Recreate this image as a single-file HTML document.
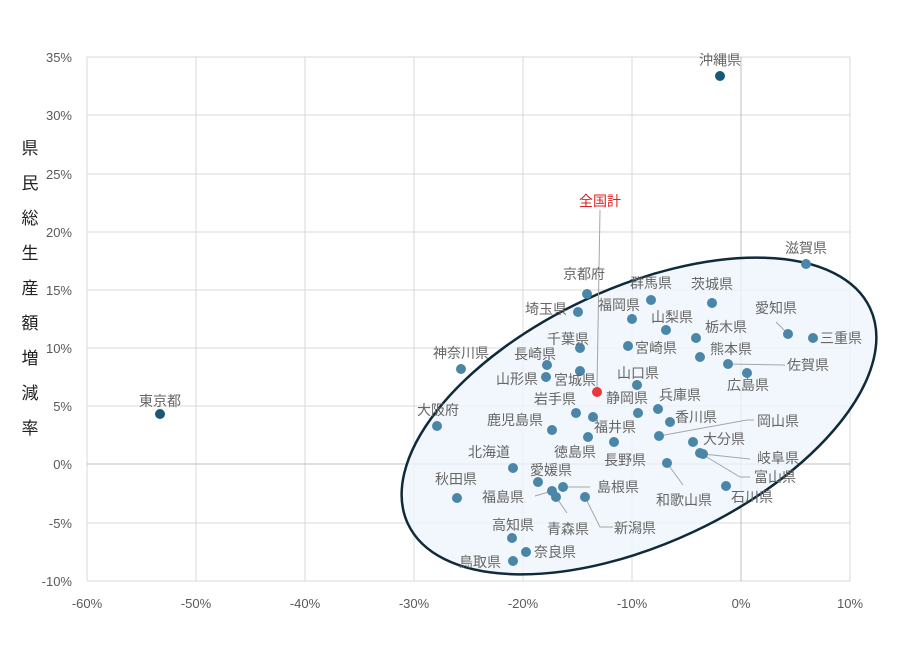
<!DOCTYPE html>
<html><head><meta charset="utf-8"><style>body{margin:0;background:#fff}</style></head><body>
<svg width="900" height="648" xmlns="http://www.w3.org/2000/svg" font-family="Liberation Sans, Noto Sans CJK JP, sans-serif">
<rect width="900" height="648" fill="#fff"/>
<g stroke="#d9d9d9" stroke-width="1">
<line x1="87" y1="57" x2="87" y2="581"/><line x1="196" y1="57" x2="196" y2="581"/><line x1="305" y1="57" x2="305" y2="581"/><line x1="414" y1="57" x2="414" y2="581"/><line x1="523" y1="57" x2="523" y2="581"/><line x1="632" y1="57" x2="632" y2="581"/><line x1="850" y1="57" x2="850" y2="581"/>
<line x1="87" y1="57" x2="850" y2="57"/><line x1="87" y1="115" x2="850" y2="115"/><line x1="87" y1="174" x2="850" y2="174"/><line x1="87" y1="232" x2="850" y2="232"/><line x1="87" y1="290" x2="850" y2="290"/><line x1="87" y1="348" x2="850" y2="348"/><line x1="87" y1="406" x2="850" y2="406"/><line x1="87" y1="523" x2="850" y2="523"/><line x1="87" y1="581" x2="850" y2="581"/>
</g>
<line x1="87" y1="464" x2="850" y2="464" stroke="#bfbfbf"/>
<line x1="741" y1="57" x2="741" y2="581" stroke="#bfbfbf"/>
<ellipse cx="639" cy="416" rx="255" ry="128" transform="rotate(-25 639 416)" fill="#eef5fb" fill-opacity="0.8" stroke="#0f2a3a" stroke-width="2.5"/>
<g font-size="13" fill="#595959" text-anchor="end">
<text x="72" y="62">35%</text><text x="72" y="120">30%</text><text x="72" y="179">25%</text><text x="72" y="237">20%</text><text x="72" y="295">15%</text><text x="72" y="353">10%</text><text x="72" y="411">5%</text><text x="72" y="469">0%</text><text x="72" y="528">-5%</text><text x="72" y="586">-10%</text>
</g>
<g font-size="13" fill="#595959" text-anchor="middle">
<text x="87" y="608">-60%</text><text x="196" y="608">-50%</text><text x="305" y="608">-40%</text><text x="414" y="608">-30%</text><text x="523" y="608">-20%</text><text x="632" y="608">-10%</text><text x="741" y="608">0%</text><text x="850" y="608">10%</text>
</g>
<g font-size="17" fill="#222" text-anchor="middle">
<text x="30" y="154">県</text><text x="30" y="189">民</text><text x="30" y="224">総</text><text x="30" y="259">生</text><text x="30" y="294">産</text><text x="30" y="329">額</text><text x="30" y="364">増</text><text x="30" y="399">減</text><text x="30" y="434">率</text>
</g>
<g stroke="#a6a6a6" fill="none" stroke-width="1">
<polyline points="600,210 597,388"/>
<polyline points="535,496 552,491"/><polyline points="563,487 590,487"/><polyline points="556,497 567,513"/><polyline points="585,497 600,527 613,527"/>
<polyline points="659,436 747,420 754,420"/><polyline points="703,454 750,459"/><polyline points="700,453 740,477 750,477"/><polyline points="667,463 683,485"/>
<polyline points="788,334 776,322"/><polyline points="728,364 785,365"/>
</g>
<g fill="#4a86a8">
<circle cx="806" cy="264" r="5"/><circle cx="587" cy="294" r="5"/><circle cx="651" cy="300" r="5"/><circle cx="712" cy="303" r="5"/><circle cx="578" cy="312" r="5"/><circle cx="632" cy="319" r="5"/><circle cx="666" cy="330" r="5"/><circle cx="788" cy="334" r="5"/><circle cx="813" cy="338" r="5"/><circle cx="696" cy="338" r="5"/><circle cx="580" cy="348" r="5"/><circle cx="628" cy="346" r="5"/><circle cx="700" cy="357" r="5"/><circle cx="461" cy="369" r="5"/><circle cx="547" cy="365" r="5"/><circle cx="728" cy="364" r="5"/><circle cx="546" cy="377" r="5"/><circle cx="580" cy="371" r="5"/><circle cx="637" cy="385" r="5"/><circle cx="747" cy="373" r="5"/>
<circle cx="437" cy="426" r="5"/><circle cx="552" cy="430" r="5"/><circle cx="576" cy="413" r="5"/><circle cx="593" cy="417" r="5"/><circle cx="588" cy="437" r="5"/><circle cx="614" cy="442" r="5"/><circle cx="513" cy="468" r="5"/><circle cx="538" cy="482" r="5"/><circle cx="563" cy="487" r="5"/><circle cx="552" cy="491" r="5"/><circle cx="556" cy="497" r="5"/><circle cx="585" cy="497" r="5"/><circle cx="457" cy="498" r="5"/><circle cx="512" cy="538" r="5"/><circle cx="526" cy="552" r="5"/><circle cx="513" cy="561" r="5"/>
<circle cx="638" cy="413" r="5"/><circle cx="658" cy="409" r="5"/><circle cx="670" cy="422" r="5"/><circle cx="659" cy="436" r="5"/><circle cx="693" cy="442" r="5"/><circle cx="700" cy="453" r="5"/><circle cx="703" cy="454" r="5"/><circle cx="667" cy="463" r="5"/><circle cx="726" cy="486" r="5"/>
</g>
<circle cx="720" cy="76" r="5" fill="#1a5878"/><circle cx="160" cy="414" r="5" fill="#1a5878"/>
<circle cx="597" cy="392" r="5" fill="#e8383d"/>
<g font-size="14" fill="#666" text-anchor="middle">
<text x="720" y="65">沖縄県</text><text x="160" y="406">東京都</text>
<text x="806" y="253">滋賀県</text><text x="584" y="279">京都府</text><text x="651" y="288">群馬県</text><text x="712" y="289">茨城県</text><text x="546" y="314">埼玉県</text><text x="619" y="310">福岡県</text><text x="672" y="322">山梨県</text><text x="776" y="313">愛知県</text><text x="841" y="343">三重県</text><text x="726" y="332">栃木県</text><text x="568" y="344">千葉県</text><text x="656" y="353">宮崎県</text><text x="731" y="354">熊本県</text><text x="461" y="358">神奈川県</text><text x="535" y="359">長崎県</text><text x="808" y="370">佐賀県</text><text x="517" y="384">山形県</text><text x="575" y="385">宮城県</text><text x="638" y="378">山口県</text><text x="748" y="390">広島県</text>
<text x="438" y="415">大阪府</text><text x="555" y="404">岩手県</text><text x="627" y="403">静岡県</text><text x="680" y="400">兵庫県</text><text x="615" y="432">福井県</text><text x="515" y="425">鹿児島県</text><text x="696" y="422">香川県</text><text x="778" y="426">岡山県</text><text x="489" y="457">北海道</text><text x="575" y="457">徳島県</text><text x="625" y="465">長野県</text><text x="724" y="444">大分県</text><text x="778" y="463">岐阜県</text><text x="456" y="484">秋田県</text><text x="551" y="475">愛媛県</text><text x="775" y="482">富山県</text><text x="503" y="502">福島県</text><text x="618" y="492">島根県</text><text x="684" y="505">和歌山県</text><text x="752" y="502">石川県</text><text x="568" y="534">青森県</text><text x="635" y="533">新潟県</text><text x="513" y="530">高知県</text><text x="555" y="557">奈良県</text><text x="480" y="567">鳥取県</text>
</g>
<text x="600" y="206" font-size="14" fill="#e02020" text-anchor="middle">全国計</text>
</svg>
</body></html>
